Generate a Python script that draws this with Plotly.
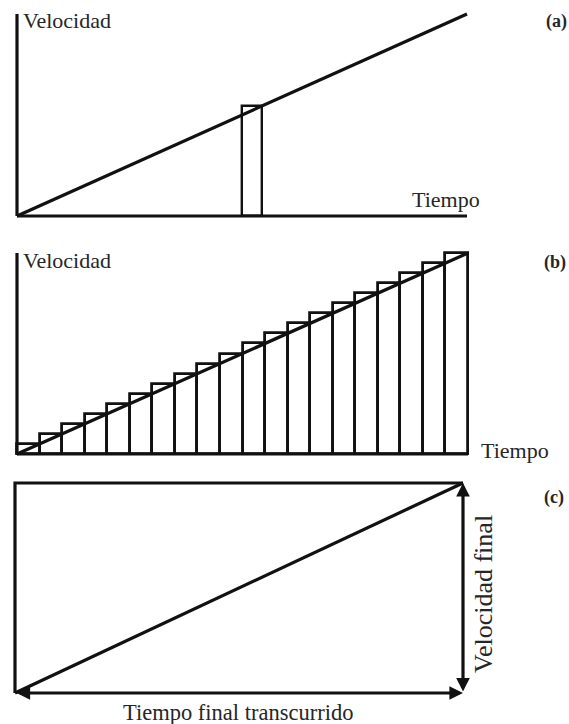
import plotly.graph_objects as go

# ---------------- data ----------------
# panel (a): velocity grows linearly with time; one thin strip
line_t = [0, 20]
line_v = [0, 20]
bar_a_start = [10.0]
bar_a_end = [10.9]
bar_a_height = [10.9]

# panel (b): 20 strips, each as tall as the velocity at its right edge
bar_b_start = [0, 1, 2, 3, 4, 5, 6, 7, 8, 9, 10, 11, 12, 13, 14, 15, 16, 17, 18, 19]
bar_b_end = [1, 2, 3, 4, 5, 6, 7, 8, 9, 10, 11, 12, 13, 14, 15, 16, 17, 18, 19, 20]
bar_b_height = [1, 2, 3, 4, 5, 6, 7, 8, 9, 10, 11, 12, 13, 14, 15, 16, 17, 18, 19, 20]

# panel (c)
t_final = 20
v_final = 20

# text
label_v = "Velocidad"
label_t = "Tiempo"
label_vf = "Velocidad final"
label_tf = "Tiempo final transcurrido"
panel_tags = ["(a)", "(b)", "(c)"]

# ---------------- layout helpers ----------------
W, H = 569, 724
OFF = 0  # body margin is removed by the post script below
FONT = "Liberation Serif"
INK = "#111111"
TXT = "#262626"
LW = 3.2

# screen-pixel geometry of each panel: (x at t=0, x at t=20, y at v=0, y at v=20, band top, band bottom)
panels = {
    "a": (17, 467, 216, 14, 0, 236),
    "b": (17, 468, 454, 253, 236, 472),
    "c": (15, 463, 693, 483, 472, 724),
}

layout_axes = {}
for i, key in enumerate(["a", "b", "c"], start=1):
    x0, x1, yb, yt, btop, bbot = [v - OFF for v in panels[key]]
    btop = max(btop, 0)
    bbot = min(bbot, H)
    kx = (x1 - x0) / 20.0
    ky = (yb - yt) / 20.0
    xr = [(0 - x0) / kx, (W - x0) / kx]
    yr = [(yb - bbot) / ky, (yb - btop) / ky]
    sfx = "" if i == 1 else str(i)
    layout_axes["xaxis" + sfx] = dict(domain=[0, 1], range=xr, visible=False, anchor="y" + sfx)
    layout_axes["yaxis" + sfx] = dict(domain=[1 - bbot / H, 1 - btop / H], range=yr,
                                      visible=False, anchor="x" + sfx)

fig = go.Figure()

def line(x, y, xa, ya):
    fig.add_trace(go.Scatter(x=x, y=y, mode="lines", xaxis=xa, yaxis=ya,
                             line=dict(color=INK, width=LW), hoverinfo="skip"))

def bars(starts, ends, heights, xa, ya, w):
    fig.add_trace(go.Bar(
        x=[(s + e) / 2 for s, e in zip(starts, ends)],
        y=heights,
        width=[e - s for s, e in zip(starts, ends)],
        base=0,
        xaxis=xa, yaxis=ya,
        marker=dict(color="rgba(255,255,255,0)", line=dict(color=INK, width=w)),
        hoverinfo="skip"))

# panel (a)
bars(bar_a_start, bar_a_end, bar_a_height, "x", "y", 2.4)
line(line_t, line_v, "x", "y")
line([0, 0], [0, 20], "x", "y")
line([0, 20], [0, 0], "x", "y")

# panel (b)
bars(bar_b_start, bar_b_end, bar_b_height, "x2", "y2", 2.8)
line(line_t, line_v, "x2", "y2")
line([0, 0], [0, 20], "x2", "y2")
line([0, 20], [0, 0], "x2", "y2")

# panel (c)
line([0, 0, t_final], [0, v_final, v_final], "x3", "y3")
line([0, t_final], [0, v_final], "x3", "y3")

annotations = []

def arrow(x, y, ax, ay):
    annotations.append(dict(
        x=x, y=y, ax=ax, ay=ay, xref="x3", yref="y3", axref="x3", ayref="y3",
        text="", showarrow=True, arrowside="end+start",
        arrowhead=2, startarrowhead=2, arrowsize=0.85, startarrowsize=0.85,
        arrowwidth=LW, arrowcolor=INK, standoff=0, startstandoff=0))

arrow(t_final, 0, 0, 0)
arrow(t_final, v_final, t_final, 0)

def text(s, px, py, size, xanchor="center", angle=0, bold=False):
    annotations.append(dict(
        text=("<b>%s</b>" % s) if bold else s,
        x=(px - OFF) / W, y=1 - (py - OFF) / H, xref="paper", yref="paper",
        xanchor=xanchor, yanchor="middle", showarrow=False, textangle=angle,
        font=dict(family=FONT, size=size, color=TXT)))

text(label_v, 21, 20, 22, xanchor="left")
text(label_t, 446, 199, 22)
text(panel_tags[0], 556, 21, 18, bold=True)

text(label_v, 21, 261, 22, xanchor="left")
text(label_t, 515, 450, 22)
text(panel_tags[1], 555, 262, 18, bold=True)

text(panel_tags[2], 554, 497, 18, bold=True)
text(label_vf, 483, 594, 26, angle=-90)
text(label_tf, 238, 712, 22.5)

fig.update_layout(
    width=W, height=H,
    margin=dict(l=0, r=0, t=0, b=0),
    paper_bgcolor="white", plot_bgcolor="rgba(0,0,0,0)",
    showlegend=False, hovermode=False,
    barmode="overlay", bargap=0,
    annotations=annotations,
    **layout_axes,
)

fig.write_html("out.html", config={"displayModeBar": False},
               post_script="document.body.style.margin='0';document.body.style.overflow='hidden';")
